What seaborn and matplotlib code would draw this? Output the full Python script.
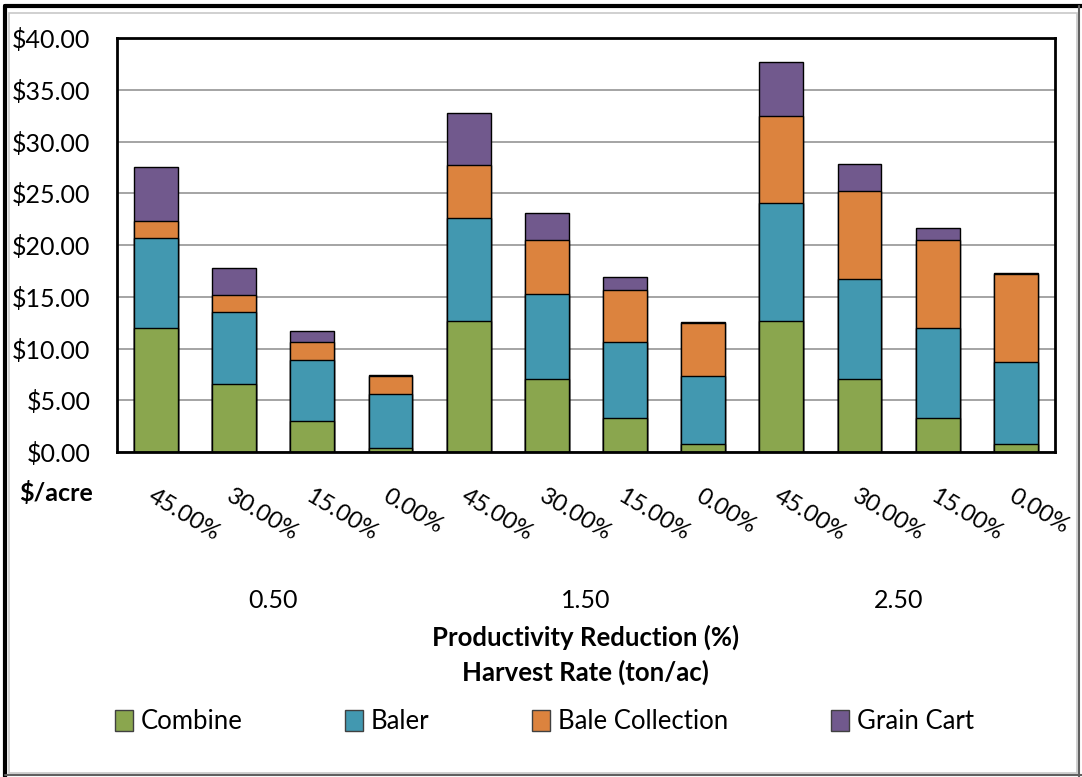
import numpy as np
import pandas as pd
import matplotlib
matplotlib.use("Agg")
import matplotlib.pyplot as plt
from matplotlib.patches import Patch, Rectangle
from matplotlib.lines import Line2D
from matplotlib.ticker import FuncFormatter
import seaborn as sns

# data ($/acre)
harvest_rates = ["0.50", "1.50", "2.50"]
reductions = ["45.00%", "30.00%", "15.00%", "0.00%"]
series_names = ["Combine", "Baler", "Bale Collection", "Grain Cart"]
combine = [12.0, 6.55, 3.0, 0.42, 12.68, 7.03, 3.35, 0.77, 12.68, 7.03, 3.35, 0.77]
baler = [8.7, 6.95, 5.9, 5.23, 9.92, 8.27, 7.25, 6.58, 11.42, 9.67, 8.65, 7.91]
bale_collection = [1.65, 1.7, 1.7, 1.7, 5.1, 5.2, 5.1, 5.15, 8.4, 8.5, 8.5, 8.58]
grain_cart = [5.15, 2.6, 1.1, 0.1, 5.1, 2.6, 1.2, 0.08, 5.2, 2.6, 1.2, 0.09]

colors = ["#8AA64E", "#4298B0", "#DC833E", "#71598D"]

sns.set_theme(style="white")
plt.rcParams["font.family"] = ["Lato", "DejaVu Sans"]
plt.rcParams["text.color"] = "black"
plt.rcParams["xtick.color"] = "black"
plt.rcParams["ytick.color"] = "black"

keys = [f"{r} {p}" for r in harvest_rates for p in reductions]
df = pd.DataFrame({"key": keys, "Combine": combine, "Baler": baler,
                   "Bale Collection": bale_collection, "Grain Cart": grain_cart})

fig = plt.figure(figsize=(10.82, 7.77), dpi=100)
ax = fig.add_axes([0.108, 0.418, 0.867, 0.533])

# stacked bars: draw cumulative totals from the top series down
cum = df[series_names].cumsum(axis=1)
for name, col in reversed(list(zip(series_names, colors))):
    sns.barplot(x=df["key"], y=cum[name], color=col, width=0.56,
                edgecolor="black", linewidth=1.0, saturation=1, ax=ax,
                order=keys)

ax.set_ylim(0, 40)
ax.set_xlim(-0.5, len(keys) - 0.5)
ax.set_yticks(np.arange(0, 41, 5))
ax.yaxis.set_major_formatter(FuncFormatter(lambda v, p: f"${v:.2f}"))
ax.yaxis.grid(True, color="#8c8c8c", linewidth=1.1)
ax.set_axisbelow(True)
for s in ax.spines.values():
    s.set_color("black")
    s.set_linewidth(2)
ax.tick_params(axis="y", length=0, pad=19, labelsize=18)
ax.tick_params(axis="x", length=0, pad=24, labelsize=17)
ax.set_xticks(range(len(keys)))
ax.set_xticklabels([p for r in harvest_rates for p in reductions],
                   rotation=-31, ha="left", va="top", rotation_mode="anchor")
ax.set_xlabel("")
ax.set_ylabel("")

# group labels (harvest rate)
for i, r in enumerate(harvest_rates):
    ax.text(i * 4 + 1.5, -0.357, r, transform=ax.get_xaxis_transform(),
            ha="center", va="center", fontsize=18)

fig.text(0.541, 0.180, "Productivity Reduction (%)", ha="center", va="center",
         fontsize=18.5, fontweight="bold")
fig.text(0.541, 0.135, "Harvest Rate (ton/ac)", ha="center", va="center",
         fontsize=18.5, fontweight="bold")
fig.text(0.018, 0.366, "$/acre", ha="left", va="center", fontsize=18,
         fontweight="bold")

handles = [Patch(facecolor=c, edgecolor="#404040", linewidth=1.0, label=n)
           for n, c in zip(series_names, colors)]
fig.legend(handles=handles, loc="center", bbox_to_anchor=(0.503, 0.071), ncol=4,
           frameon=False, fontsize=18.5, handlelength=0.7, handleheight=0.9,
           handletextpad=0.3, columnspacing=4.0)

# outer chart frame
fig.add_artist(Rectangle((9 / 1082, 4 / 777), 1068 / 1082, 760 / 777,
                         transform=fig.transFigure, fill=False,
                         edgecolor="#c8c8c8", linewidth=1.2))
fig.add_artist(Line2D([5 / 1082, 5 / 1082], [0, 1 - 6 / 777],
                      transform=fig.transFigure, color="black", linewidth=3))
fig.add_artist(Line2D([5 / 1082, 1], [1 - 6 / 777, 1 - 6 / 777],
                      transform=fig.transFigure, color="black", linewidth=3))
fig.add_artist(Line2D([1 - 3 / 1082, 1 - 3 / 1082], [0, 1 - 6 / 777],
                      transform=fig.transFigure, color="#606060", linewidth=1.5))
fig.add_artist(Line2D([5 / 1082, 1], [2 / 777, 2 / 777],
                      transform=fig.transFigure, color="#606060", linewidth=1.5))

fig.savefig("out.png", dpi=100)
